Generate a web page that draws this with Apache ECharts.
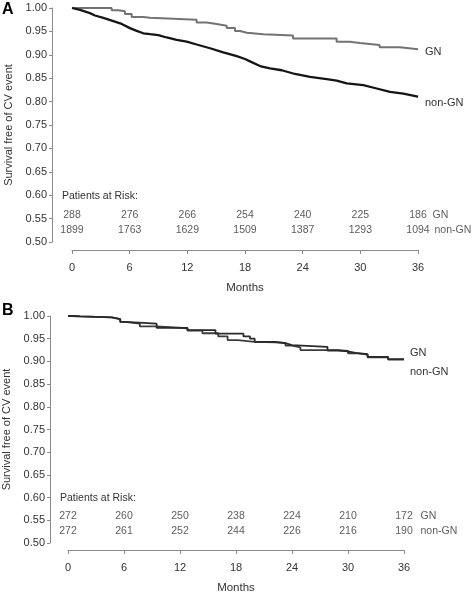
<!DOCTYPE html>
<html><head><meta charset="utf-8">
<script src="https://cdn.jsdelivr.net/npm/echarts@6/dist/echarts.min.js"></script>
<style>html,body{margin:0;padding:0;background:#fff}#c{width:472px;height:594px}</style>
</head><body><div id="c"></div>
<script>
// ---------- data ----------
const riskMonths = [0, 6, 12, 18, 24, 30, 36];
const riskA_GN = [288, 276, 266, 254, 240, 225, 186];
const riskA_nonGN = [1899, 1763, 1629, 1509, 1387, 1293, 1094];
const riskB_GN = [272, 260, 250, 238, 224, 210, 172];
const riskB_nonGN = [272, 261, 252, 244, 226, 216, 190];

// Panel A Kaplan-Meier curves (time in months, survival)
const A_GN_t = [0, 4.13, 4.82, 5.51, 6.21, 7.42, 8.12, 12.97, 14.01, 15.05, 16.1, 16.96, 17.48, 18.2, 19.9, 23.0, 27.53, 28.9, 29.96, 32.0, 34.1, 36];
const A_GN_s = [1.000, 0.995, 0.993, 0.987, 0.981, 0.979, 0.975, 0.969, 0.966, 0.962, 0.957, 0.951, 0.947, 0.944, 0.941, 0.935, 0.928, 0.925, 0.921, 0.916, 0.912, 0.912];
const A_non_t = [0, 0.83, 1.87, 2.39, 3.26, 4.30, 5.17, 6.03, 6.73, 7.42, 8.12, 8.98, 9.85, 10.89, 11.93, 12.97, 14.36, 15.74, 17.14, 18.0, 18.52, 19.56, 20.60, 21.82, 23.2, 24.76, 26.5, 27.54, 28.58, 30.31, 31.7, 33.09, 34.47, 35.86, 36];
const A_non_s = [1.000, 0.996, 0.989, 0.984, 0.979, 0.972, 0.966, 0.957, 0.951, 0.946, 0.944, 0.942, 0.937, 0.932, 0.928, 0.922, 0.914, 0.905, 0.897, 0.891, 0.886, 0.876, 0.871, 0.867, 0.859, 0.853, 0.848, 0.845, 0.839, 0.835, 0.828, 0.821, 0.817, 0.811, 0.810];

// Panel B Kaplan-Meier curves
const B_GN_t = [0, 0.5, 1.3, 4.7, 5.6, 6.1, 9.5, 12.8, 15.8, 18.8, 19.5, 20.0, 22.2, 23.3, 24.0, 27.8, 28.9, 30.0, 30.8, 32.1, 34.3, 36];
const B_GN_s = [1.000, 0.999, 0.997, 0.993, 0.987, 0.983, 0.974, 0.969, 0.961, 0.955, 0.950, 0.943, 0.940, 0.936, 0.932, 0.924, 0.922, 0.919, 0.916, 0.910, 0.905, 0.905];
const B_non_t = [0, 0.5, 1.3, 4.7, 5.6, 6.1, 7.7, 9.5, 12.8, 14.4, 16.1, 17.1, 18.2, 20.0, 22.2, 23.3, 24.0, 24.9, 28.9, 30.0, 30.8, 32.1, 34.3, 36];
const B_non_s = [1.000, 0.999, 0.997, 0.993, 0.987, 0.983, 0.977, 0.973, 0.968, 0.962, 0.955, 0.947, 0.943, 0.942, 0.941, 0.935, 0.931, 0.925, 0.923, 0.918, 0.915, 0.909, 0.904, 0.904];

const yMin = 0.5, yMax = 1.0, yStep = 0.05;
const xMin = 0, xMax = 36, xStep = 6;
// risk table row heights (in survival-axis units)
const riskRowA = [0.5577, 0.5256];
const riskRowB = [0.5595, 0.5264];

// ---------- chart ----------
const FONT = 'Liberation Sans, Arial, Helvetica, sans-serif';
const TXT = '#333';
const AX = '#8a8a8a';
const chart = echarts.init(document.getElementById('c'), null, {renderer: 'canvas'});
const zip = (t, s) => t.map((v, i) => [v, s[i]]);

function yAx(gi, off) {
  return {
    gridIndex: gi, type: 'value', min: yMin, max: yMax, interval: yStep, offset: off,
    axisLine: {show: true, onZero: false, lineStyle: {color: AX, width: 1}},
    axisTick: {show: true, length: 3, lineStyle: {color: AX}},
    axisLabel: {margin: 5, fontSize: 11, color: TXT, fontFamily: FONT, formatter: v => v.toFixed(2)},
    splitLine: {show: false},
    name: 'Survival free of CV event', nameLocation: 'middle', nameGap: 34,
    nameTextStyle: {fontSize: 11, color: TXT, fontFamily: FONT}
  };
}
function xAx(gi, off) {
  return {
    gridIndex: gi, type: 'value', min: xMin, max: xMax, interval: xStep, offset: off,
    axisLine: {show: true, onZero: false, lineStyle: {color: AX, width: 1}},
    axisTick: {show: true, length: 4, lineStyle: {color: AX}},
    axisLabel: {margin: 12, fontSize: 11, color: TXT, fontFamily: FONT},
    splitLine: {show: false},
    name: 'Months', nameLocation: 'middle', nameGap: 32,
    nameTextStyle: {fontSize: 11.5, color: TXT, fontFamily: FONT}
  };
}
function km(gi, data, color, width, z, step) {
  return {type: 'line', xAxisIndex: gi, yAxisIndex: gi, data: data, step: step, showSymbol: false,
    clip: false, z: z, lineStyle: {color: color, width: width}, animation: false, silent: true};
}
function risk(gi, counts, yv, name, nameDist) {
  const data = riskMonths.map((m, i) => [m, yv, counts[i]]);
  return [{
    type: 'scatter', xAxisIndex: gi, yAxisIndex: gi, symbolSize: 1, clip: false,
    itemStyle: {color: 'rgba(0,0,0,0)'}, animation: false, silent: true,
    data: data,
    label: {show: true, position: 'inside', formatter: p => String(p.value[2]),
      fontSize: 10.5, color: TXT, fontFamily: FONT}
  }, {
    type: 'scatter', xAxisIndex: gi, yAxisIndex: gi, symbolSize: 1, clip: false,
    itemStyle: {color: 'rgba(0,0,0,0)'}, animation: false, silent: true,
    data: [[xMax, yv]],
    label: {show: true, position: 'right', distance: nameDist, formatter: name,
      fontSize: 10.5, color: TXT, fontFamily: FONT}
  }];
}

chart.setOption({
  animation: false,
  backgroundColor: '#fff',
  grid: [
    {left: 72, top: 8, width: 346, height: 234, containLabel: false, outerBoundsMode: 'none'},
    {left: 68, top: 316, width: 336, height: 227, containLabel: false, outerBoundsMode: 'none'}
  ],
  xAxis: [xAx(0, 8), xAx(1, 7)],
  yAxis: [yAx(0, 20), yAx(1, 18)],
  series: [
    km(0, zip(A_GN_t, A_GN_s), '#737373', 2, 3, 'end'),
    km(0, zip(A_non_t, A_non_s), '#151515', 2.3, 4, false),
    km(1, zip(B_non_t, B_non_s), '#3c3c3c', 1.8, 3, 'end'),
    km(1, zip(B_GN_t, B_GN_s), '#2a2a2a', 1.8, 4, 'end'),
    ...risk(0, riskA_GN, riskRowA[0], 'GN', 14),
    ...risk(0, riskA_nonGN, riskRowA[1], 'non-GN', 16),
    ...risk(1, riskB_GN, riskRowB[0], 'GN', 16),
    ...risk(1, riskB_nonGN, riskRowB[1], 'non-GN', 16)
  ],
  graphic: [
    {type: 'text', x: 2, y: 10, style: {text: 'A', fontSize: 16, fontWeight: 'bold', fontFamily: FONT, fill: '#000', verticalAlign: 'middle'}},
    {type: 'text', x: 2, y: 311, style: {text: 'B', fontSize: 16, fontWeight: 'bold', fontFamily: FONT, fill: '#000', verticalAlign: 'middle'}},
    {type: 'text', x: 62, y: 196, style: {text: 'Patients at Risk:', fontSize: 10.5, fontFamily: FONT, fill: TXT, verticalAlign: 'middle'}},
    {type: 'text', x: 60, y: 498, style: {text: 'Patients at Risk:', fontSize: 10.5, fontFamily: FONT, fill: TXT, verticalAlign: 'middle'}},
    {type: 'text', x: 425, y: 52, style: {text: 'GN', fontSize: 11, fontFamily: FONT, fill: TXT, verticalAlign: 'middle'}},
    {type: 'text', x: 425, y: 103, style: {text: 'non-GN', fontSize: 11, fontFamily: FONT, fill: TXT, verticalAlign: 'middle'}},
    {type: 'text', x: 410, y: 353, style: {text: 'GN', fontSize: 11, fontFamily: FONT, fill: TXT, verticalAlign: 'middle'}},
    {type: 'text', x: 410, y: 372, style: {text: 'non-GN', fontSize: 11, fontFamily: FONT, fill: TXT, verticalAlign: 'middle'}}
  ]
});
</script></body></html>
